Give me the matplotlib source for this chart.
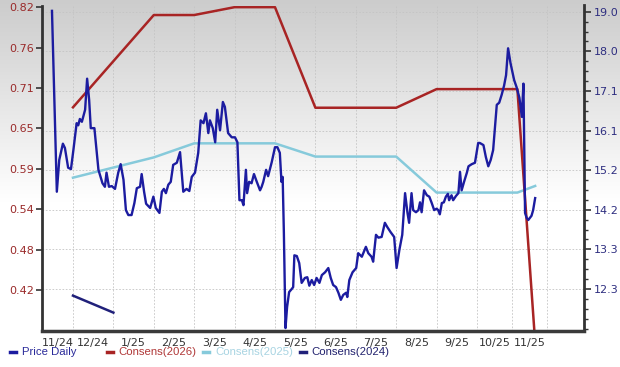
import numpy as np
import matplotlib
matplotlib.use("Agg")
import matplotlib.pyplot as plt
from matplotlib.lines import Line2D

# ---------------- data ----------------
# x positions are in "month" units: 1 = start of Dec-24, 2 = start of Jan-25, ...
price_x = [0.48, 0.60, 0.66, 0.75, 0.80, 0.88, 0.95, 1.01, 1.09, 1.13,
           1.17, 1.22, 1.30, 1.35, 1.40, 1.44, 1.53, 1.63, 1.73, 1.79,
           1.83, 1.89, 1.96, 2.04, 2.12, 2.18, 2.25, 2.31, 2.37, 2.45,
           2.52, 2.58, 2.66, 2.70, 2.76, 2.81, 2.91, 2.99, 3.05, 3.14,
           3.20, 3.25, 3.30, 3.36, 3.42, 3.48, 3.57, 3.65, 3.73, 3.81,
           3.88, 3.94, 4.02, 4.10, 4.16, 4.23, 4.29, 4.35, 4.39, 4.46,
           4.52, 4.57, 4.64, 4.71, 4.76, 4.84, 4.93, 5.01, 5.07, 5.12,
           5.18, 5.22, 5.28, 5.31, 5.36, 5.42, 5.48, 5.55, 5.63, 5.67,
           5.71, 5.78, 5.83, 5.92, 6.00, 6.06, 6.12, 6.16, 6.19, 6.22,
           6.26, 6.30, 6.35, 6.41, 6.45, 6.48, 6.54, 6.60, 6.66, 6.74,
           6.80, 6.85, 6.91, 6.97, 7.03, 7.10, 7.16, 7.24, 7.32, 7.38,
           7.44, 7.51, 7.57, 7.63, 7.69, 7.76, 7.79, 7.84, 7.92, 8.01,
           8.06, 8.15, 8.20, 8.25, 8.31, 8.39, 8.43, 8.50, 8.56, 8.64,
           8.72, 8.78, 8.86, 8.95, 9.01, 9.08, 9.15, 9.22, 9.28, 9.32,
           9.38, 9.42, 9.49, 9.55, 9.59, 9.63, 9.69, 9.76, 9.82, 9.88,
           9.94, 10.00, 10.04, 10.08, 10.13, 10.18, 10.23, 10.28, 10.31, 10.37,
           10.41, 10.48, 10.54, 10.58, 10.62, 10.68, 10.75, 10.79, 10.87, 10.95,
           10.99, 11.03, 11.07, 11.16, 11.22, 11.28, 11.34, 11.40, 11.49, 11.55,
           11.61, 11.67, 11.72, 11.77, 11.83, 11.92, 11.98, 12.05, 12.11, 12.15,
           12.19, 12.23, 12.27, 12.35, 12.39, 12.44]
price_y = [0.815, 0.559, 0.604, 0.627, 0.621, 0.593, 0.591, 0.618, 0.656, 0.653,
           0.662, 0.658, 0.675, 0.719, 0.689, 0.649, 0.649, 0.590, 0.571, 0.566,
           0.586, 0.566, 0.567, 0.563, 0.586, 0.598, 0.576, 0.533, 0.526, 0.526,
           0.543, 0.564, 0.566, 0.584, 0.559, 0.542, 0.536, 0.552, 0.536, 0.529,
           0.559, 0.563, 0.557, 0.569, 0.573, 0.597, 0.600, 0.615, 0.559, 0.563,
           0.560, 0.580, 0.586, 0.614, 0.660, 0.656, 0.670, 0.642, 0.660, 0.649,
           0.629, 0.675, 0.646, 0.686, 0.679, 0.642, 0.636, 0.636, 0.629, 0.547,
           0.547, 0.540, 0.590, 0.557, 0.573, 0.571, 0.584, 0.573, 0.561, 0.566,
           0.573, 0.590, 0.581, 0.601, 0.622, 0.622, 0.614, 0.573, 0.580, 0.501,
           0.366, 0.396, 0.417, 0.421, 0.424, 0.469, 0.468, 0.458, 0.430, 0.437,
           0.438, 0.426, 0.434, 0.427, 0.437, 0.430, 0.441, 0.445, 0.451, 0.437,
           0.427, 0.424, 0.416, 0.406, 0.413, 0.416, 0.410, 0.434, 0.445, 0.451,
           0.472, 0.467, 0.474, 0.481, 0.472, 0.467, 0.460, 0.498, 0.494, 0.495,
           0.515, 0.509, 0.502, 0.495, 0.451, 0.477, 0.498, 0.557, 0.529, 0.515,
           0.557, 0.533, 0.530, 0.533, 0.544, 0.530, 0.561, 0.554, 0.552, 0.543,
           0.533, 0.535, 0.533, 0.527, 0.543, 0.544, 0.552, 0.556, 0.547, 0.554,
           0.547, 0.553, 0.557, 0.587, 0.561, 0.573, 0.586, 0.595, 0.598, 0.600,
           0.614, 0.628, 0.628, 0.625, 0.608, 0.595, 0.604, 0.618, 0.682, 0.685,
           0.696, 0.709, 0.724, 0.762, 0.741, 0.717, 0.707, 0.692, 0.665, 0.712,
           0.529, 0.522, 0.519, 0.525, 0.533, 0.550]

cons26_x = [1.0, 3.0, 4.0, 5.0, 6.0, 7.0, 9.0, 10.0, 12.0, 12.42]
cons26_y = [16.69, 18.92, 18.92, 19.11, 19.11, 16.68, 16.68, 17.13, 17.13, 11.29]
cons25_x = [1.0, 3.0, 4.0, 6.0, 7.0, 9.0, 10.0, 12.0, 12.44]
cons25_y = [14.99, 15.48, 15.82, 15.82, 15.50, 15.50, 14.63, 14.63, 14.79]
cons24_x = [1.0, 2.0]
cons24_y = [12.14, 11.73]

month_labels = ["11/24", "12/24", "1/25", "2/25", "3/25", "4/25", "5/25",
                "6/25", "7/25", "8/25", "9/25", "10/25", "11/25"]
month_bounds = [0.233, 1, 2, 3, 4, 5, 6, 7, 8, 9, 10, 11, 11.866, 12.733]

left_labels = ["0.42", "0.48", "0.54", "0.59", "0.65", "0.71", "0.76", "0.82"]
right_labels = ["12.3", "13.3", "14.2", "15.2", "16.1", "17.1", "18.0", "19.0"]

legend_names = ["Price Daily", "Consens(2026)", "Consens(2025)", "Consens(2024)"]

# ---------------- style ----------------
C_PRICE = "#1c1ca0"
C_26 = "#a82424"
C_25 = "#86cadb"
C_24 = "#20207a"
LEG_TXT = ["#2a2a9a", "#b03838", "#a8d4e2", "#22226e"]

W, H = 620, 367
fig = plt.figure(figsize=(W / 100, H / 100), dpi=100)
plt.rcParams["font.family"] = ["DejaVu Sans"]

# background vertical gradient
bg = fig.add_axes([0, 0, 1, 1], zorder=-10)
rows = np.linspace(0, 1, H)
g = np.clip(0.80 + 0.20 * rows / 0.55, 0, 1)
img = np.dstack([np.repeat(g[:, None], 4, axis=1)] * 3)
bg.imshow(img, aspect="auto", extent=[0, 1, 0, 1], origin="upper")
bg.set_axis_off()

rect = [42 / W, 36 / H, 542 / W, (331 - 5.5) / H]
xlim = (0.233, 13.649)

# consensus axes (bottom layer, right scale, grid)
axc = fig.add_axes(rect, label="cons", zorder=1)
axc.set_facecolor("none")
axc.set_xlim(*xlim)
lstep = 0.4 / 7
rstep = 6.7 / 7
rticks = [12.3 + k * rstep for k in range(8)]
axc.set_ylim(12.3 - 1.06 * rstep, 19.0 + 0.157 * rstep)
axc.yaxis.tick_right()
axc.set_yticks(rticks)
axc.set_yticklabels(right_labels)
minor = [12.3 + k * rstep / 4 for k in range(-4, 30)]
axc.set_yticks([m for m in minor if 11.3 < m < 19.1], minor=True)
axc.tick_params(axis="y", which="major", length=5, width=1.2, color="#333333",
                labelsize=8, labelcolor="#2e2e80", pad=2)
axc.tick_params(axis="y", which="minor", length=3, width=1.0, color="#333333")
axc.set_xticks([])
axc.set_xticks(month_bounds[1:], minor=True)
axc.tick_params(axis="x", which="both", length=0, labelbottom=False)
axc.grid(True, axis="y", which="major", color="#c4c4c4", linestyle=(0, (2, 2)), linewidth=0.6)
axc.grid(True, axis="x", which="minor", color="#c4c4c4", linestyle=(0, (2, 2)), linewidth=0.6)
for s in ["top", "left", "bottom"]:
    axc.spines[s].set_visible(False)
axc.spines["right"].set_linewidth(2)
axc.spines["right"].set_color("#333333")

axc.plot(cons25_x, cons25_y, color=C_25, lw=1.8, solid_joinstyle="round")
axc.plot(cons26_x, cons26_y, color=C_26, lw=1.8, solid_joinstyle="round")
axc.plot(cons24_x, cons24_y, color=C_24, lw=1.8)

# price axes (top layer, left scale)
axp = fig.add_axes(rect, label="price", zorder=2)
axp.set_facecolor("none")
axp.set_xlim(*xlim)
lticks = [0.42 + k * lstep for k in range(8)]
axp.set_ylim(0.42 - 1.017 * lstep, 0.82 + 0.045 * lstep)
axp.set_yticks(lticks)
axp.set_yticklabels(left_labels)
axp.tick_params(axis="y", length=4, width=1.2, color="#333333", labelsize=8,
                labelcolor="#9a2a2a", pad=2)
mids = [(month_bounds[i] + month_bounds[i + 1]) / 2 for i in range(len(month_labels))]
axp.set_xticks(mids)
axp.set_xticklabels(month_labels)
axp.tick_params(axis="x", length=0, labelsize=8, labelcolor="#333333", pad=5)
axp.spines["top"].set_visible(False)
axp.spines["right"].set_visible(False)
axp.spines["left"].set_linewidth(2)
axp.spines["left"].set_color("#333333")
axp.spines["bottom"].set_linewidth(2.5)
axp.spines["bottom"].set_color("#3a3a3a")

axp.plot(price_x, price_y, color=C_PRICE, lw=1.7, solid_joinstyle="round")

# legend (fixed width slots)
ly = 1 - 352 / H
for i, (name, lc, tc) in enumerate(zip(legend_names, [C_PRICE, C_26, C_25, C_24], LEG_TXT)):
    x0 = 10 + 96.5 * i
    fig.add_artist(Line2D([x0 / W, (x0 + 6) / W], [ly, ly], color=lc, lw=2.5,
                          transform=fig.transFigure))
    fig.text((x0 + 12) / W, ly, name, color=tc, fontsize=8.2, va="center", ha="left",
             family=["Liberation Sans", "DejaVu Sans"])

fig.savefig("out.png", dpi=100)
